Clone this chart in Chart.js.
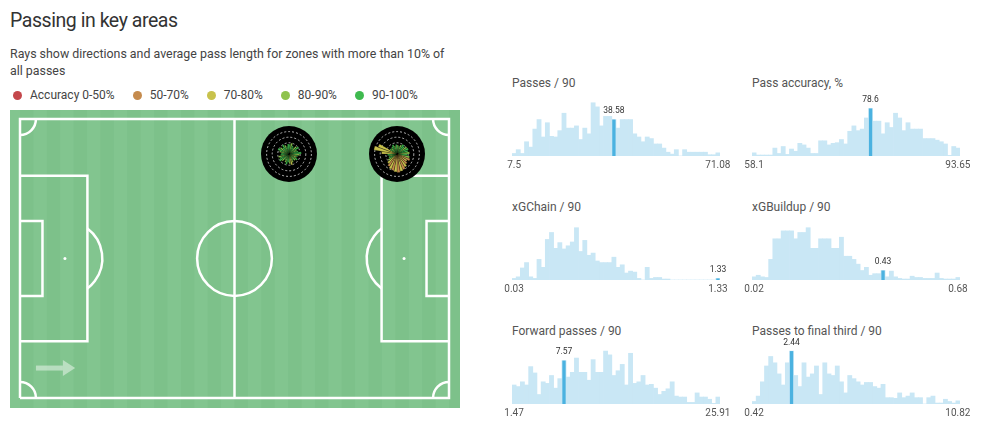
<!DOCTYPE html>
<html>
<head>
<meta charset="utf-8">
<script src="https://cdn.jsdelivr.net/npm/chart.js@4.4.1/dist/chart.umd.min.js"></script>
<style>
body{margin:0;width:982px;height:427px;background:#fff;font-family:Roboto,"Noto Sans",sans-serif;color:#333;position:relative;overflow:hidden}
.abs{position:absolute}
#title{left:10px;top:9px;font-size:19.5px;letter-spacing:-0.45px;color:#333;white-space:nowrap}
#sub{left:10px;top:45px;width:470px;font-size:12.4px;line-height:17px;color:#444}
#legend{left:13px;top:88px;font-size:12px;color:#444;display:flex;align-items:center;white-space:nowrap}
.item{display:flex;align-items:center;margin-right:18px}
.dot{width:9px;height:9px;border-radius:50%;margin-right:8px}
.ptitle{font-size:12px;line-height:14px;color:#555;white-space:nowrap}
</style>
</head>
<body>
<div id="title" class="abs">Passing in key areas</div>
<div id="sub" class="abs">Rays show directions and average pass length for zones with more than 10% of<br>all passes</div>
<div id="legend" class="abs"></div>
<canvas id="pitch" class="abs" style="left:10px;top:110px" width="450" height="298"></canvas>
<script>
Chart.defaults.font.family = 'Roboto, "Noto Sans", sans-serif';

// accuracy classes
const accLabels = ['Accuracy 0-50%', '50-70%', '70-80%', '80-90%', '90-100%'];
const accColors = ['#c4474b', '#c58b4d', '#c8c24c', '#8ec34d', '#3fba4f'];

// pitch markings, metres
const pitchOutline = [[0, 0], [105, 0], [105, 68], [0, 68], [0, 0]];
const halfwayLine = [[52.5, 0], [52.5, 68]];
const leftBox = [[0, 13.84], [16.5, 13.84], [16.5, 54.16], [0, 54.16]];
const leftSixYard = [[0, 24.84], [5.5, 24.84], [5.5, 43.16], [0, 43.16]];
const rightBox = [[105, 13.84], [88.5, 13.84], [88.5, 54.16], [105, 54.16]];
const rightSixYard = [[105, 24.84], [99.5, 24.84], [99.5, 43.16], [105, 43.16]];

// zones with more than 10% of passes (centre, metres)
const zoneCentres = [[65.8, 59.5], [92.3, 59.5]];
// rays: 36 directions clockwise from "up", average length and accuracy class
const zone1Length = [3.5, 4.0, 3.2, 2.8, 3.6, 4.2, 3.0, 3.4, 4.4, 3.8, 3.2, 2.9, 3.6, 3.1, 2.7, 3.3, 4.0, 3.5,
                     3.0, 3.8, 3.2, 2.6, 3.4, 4.1, 3.6, 3.9, 3.0, 2.8, 3.5, 4.3, 3.7, 3.1, 3.9, 3.4, 2.9, 3.6];
const zone1Accuracy = [4, 3, 4, 4, 3, 4, 3, 4, 4, 3, 4, 2, 4, 3, 4, 3, 2, 3,
                       4, 4, 3, 4, 3, 4, 4, 3, 4, 4, 3, 4, 3, 4, 4, 3, 4, 4];
const zone2Length = [3.2, 3.0, 3.5, 4.0, 3.6, 4.2, 4.4, 4.0, 4.5, 3.8, 4.6, 5.0, 4.2, 4.8, 5.5, 6.0, 6.3, 6.6,
                     6.4, 6.0, 5.8, 5.2, 4.5, 3.8, 3.2, 3.0, 3.4, 5.5, 8.4, 7.2, 3.0, 2.8, 3.2, 3.6, 3.0, 3.4];
const zone2Accuracy = [3, 4, 3, 4, 4, 3, 4, 4, 3, 4, 3, 1, 2, 1, 2, 1, 2, 1,
                       2, 1, 2, 1, 2, 3, 4, 3, 4, 2, 2, 2, 4, 3, 4, 4, 3, 4];

// distributions
const passesCounts = [8, 20, 8, 45, 28, 85, 115, 60, 105, 62, 60, 80, 135, 88, 88, 95, 52, 88, 70, 168, 155, 95, 125, 125, 115,
                      88, 115, 115, 115, 70, 60, 45, 60, 55, 38, 38, 25, 12, 6, 20, 0, 20, 12, 12, 12, 12, 12, 4, 4, 10];
const passesRange = [7.5, 71.08];
const passesPlayer = 38.58;

const accuracyCounts = [10, 3, 3, 3, 3, 25, 8, 30, 5, 22, 15, 40, 35, 25, 8, 8, 48, 48, 35, 40, 42, 52, 38, 78, 95,
                        80, 85, 120, 150, 110, 110, 70, 105, 90, 135, 120, 80, 105, 85, 85, 85, 55, 55, 55, 50, 45, 38, 2, 30, 25];
const accuracyRange = [58.1, 93.65];
const accuracyPlayer = 78.6;

const xgChainCounts = [5, 10, 38, 55, 10, 5, 65, 40, 128, 150, 100, 118, 98, 108, 120, 165, 90, 125, 78, 85, 60, 55, 55, 55, 72,
                       40, 48, 22, 28, 25, 5, 0, 40, 5, 8, 8, 3, 3, 0, 0, 0, 0, 0, 0, 0, 0, 0, 0, 0, 5];
const xgChainRange = [0.03, 1.33];
const xgChainPlayer = 1.33;

const xgBuildupCounts = [10, 15, 10, 8, 65, 130, 130, 155, 155, 155, 130, 150, 150, 165, 100, 100, 130, 130, 130, 100, 100, 135, 75, 75, 65,
                         50, 30, 40, 15, 20, 20, 30, 10, 28, 10, 5, 3, 3, 12, 8, 8, 5, 5, 5, 22, 5, 3, 3, 3, 8];
const xgBuildupRange = [0.02, 0.68];
const xgBuildupPlayer = 0.43;

const forwardCounts = [60, 55, 70, 60, 118, 98, 30, 70, 65, 90, 50, 80, 137, 85, 100, 145, 100, 100, 75, 140, 100, 100, 167, 155, 90,
                       105, 125, 60, 160, 65, 70, 90, 60, 62, 50, 30, 40, 48, 70, 25, 22, 22, 5, 5, 35, 22, 22, 15, 2, 22];
const forwardRange = [1.47, 25.91];
const forwardPlayer = 7.57;

const finalThirdCounts = [8, 25, 70, 120, 150, 130, 95, 60, 130, 167, 90, 55, 130, 85, 95, 120, 30, 130, 95, 90, 120, 70, 35, 90, 80,
                          70, 60, 68, 68, 55, 50, 62, 20, 20, 18, 35, 20, 25, 35, 20, 20, 0, 20, 25, 3, 3, 15, 8, 3, 10];
const finalThirdRange = [0.42, 10.82];
const finalThirdPlayer = 2.44;

// legend
const legend = document.getElementById('legend');
accLabels.forEach((label, i) => {
    const item = document.createElement('div');
    item.className = 'item';
    item.innerHTML = '<span class="dot" style="background:' + accColors[i] + '"></span>' + label;
    legend.appendChild(item);
});

// grass, arcs, spots and attack arrow
const pitchPlugin = {
    id: 'pitchDecor',
    beforeDraw(chart) {
        const {ctx, width, height, scales: {x}} = chart;
        ctx.save();
        ctx.fillStyle = '#7fc48d';
        ctx.fillRect(0, 0, width, height);
        const band = 105 / 32;
        for (let i = -4; i < 36; i++) {
            const x0 = x.getPixelForValue(i * band), x1 = x.getPixelForValue((i + 1) * band);
            ctx.fillStyle = i % 2 ? 'rgba(255,255,255,0.025)' : 'rgba(0,80,20,0.015)';
            ctx.fillRect(x0, 0, x1 - x0, height);
        }
        ctx.restore();
    },
    afterDatasetsDraw(chart) {
        const {ctx, scales: {x, y}} = chart;
        const px = v => x.getPixelForValue(v), py = v => y.getPixelForValue(v);
        const m = v => px(v) - px(0);
        ctx.save();
        ctx.strokeStyle = '#fff';
        ctx.lineWidth = 2.5;
        // centre circle
        ctx.beginPath();
        ctx.arc(px(52.5), py(34), m(9.15), 0, Math.PI * 2);
        ctx.stroke();
        // penalty arcs
        const a = Math.acos(5.5 / 9.15);
        ctx.beginPath();
        ctx.arc(px(11), py(34), m(9.15), -a, a);
        ctx.stroke();
        ctx.beginPath();
        ctx.arc(px(94), py(34), m(9.15), Math.PI - a, Math.PI + a);
        ctx.stroke();
        // corners
        const r = m(3.9);
        [[0, 68, 0], [105, 68, 0.5], [105, 0, 1], [0, 0, 1.5]].forEach(([cx, cy, s]) => {
            ctx.beginPath();
            ctx.arc(px(cx), py(cy), r, s * Math.PI, (s + 0.5) * Math.PI);
            ctx.stroke();
        });
        // spots
        ctx.fillStyle = '#fff';
        [11, 94].forEach(sx => {
            ctx.beginPath();
            ctx.arc(px(sx), py(34), 1.5, 0, Math.PI * 2);
            ctx.fill();
        });
        // arrow
        ctx.strokeStyle = ctx.fillStyle = 'rgba(255,255,255,0.45)';
        ctx.lineWidth = 5;
        ctx.beginPath();
        ctx.moveTo(px(3.9), py(7.3));
        ctx.lineTo(px(10.5), py(7.3));
        ctx.stroke();
        ctx.beginPath();
        ctx.moveTo(px(10.5), py(7.3) - 8);
        ctx.lineTo(px(13.5), py(7.3));
        ctx.lineTo(px(10.5), py(7.3) + 8);
        ctx.closePath();
        ctx.fill();
        ctx.restore();
    }
};

const pitchLines = [pitchOutline, halfwayLine, leftBox, leftSixYard, rightBox, rightSixYard];
const pitch = new Chart(document.getElementById('pitch'), {
    type: 'scatter',
    data: {
        datasets: pitchLines.map(pts => ({
            data: pts.map(([x, y]) => ({x, y})),
            showLine: true,
            pointRadius: 0,
            borderColor: '#fff',
            borderWidth: 2.5,
            borderJoinStyle: 'miter',
            clip: false
        }))
    },
    options: {
        responsive: false,
        animation: false,
        events: [],
        layout: {padding: {left: 10, right: 11, top: 9, bottom: 10}},
        scales: {
            x: {type: 'linear', min: 0, max: 105, display: false},
            y: {type: 'linear', min: 0, max: 68, display: false}
        },
        plugins: {legend: {display: false}, tooltip: {enabled: false}}
    },
    plugins: [pitchPlugin]
});

// black disc behind each ray chart
const discPlugin = {
    id: 'disc',
    beforeDraw(chart) {
        const r = chart.scales.r, ctx = chart.ctx;
        ctx.save();
        ctx.fillStyle = '#000';
        ctx.beginPath();
        ctx.arc(r.xCenter, r.yCenter, r.drawingArea, 0, Math.PI * 2);
        ctx.fill();
        ctx.restore();
    }
};

const zoneRays = [[zone1Length, zone1Accuracy], [zone2Length, zone2Accuracy]];
zoneCentres.forEach((c, k) => {
    const cx = pitch.scales.x.getPixelForValue(c[0]) + 10;
    const cy = pitch.scales.y.getPixelForValue(c[1]) + 110;
    const cv = document.createElement('canvas');
    cv.width = 60; cv.height = 60;
    cv.className = 'abs';
    cv.style.left = (cx - 30) + 'px';
    cv.style.top = (cy - 30) + 'px';
    document.body.appendChild(cv);
    const [len, acc] = zoneRays[k];
    new Chart(cv, {
        type: 'polarArea',
        data: {
            labels: len.map((_, i) => i * 10 + '°'),
            datasets: [{
                data: len,
                backgroundColor: acc.map(a => accColors[a]),
                borderColor: 'rgba(0,0,0,0.5)',
                borderWidth: 0.5
            }]
        },
        options: {
            responsive: false,
            animation: false,
            events: [],
            layout: {padding: 2},
            plugins: {legend: {display: false}, tooltip: {enabled: false}},
            scales: {
                r: {
                    min: 0, max: 10,
                    ticks: {display: false, stepSize: 2},
                    grid: {
                        color: ctx => (ctx.tick && [4, 6, 8].includes(ctx.tick.value)) ? 'rgba(255,255,255,0.85)' : 'rgba(0,0,0,0)',
                        lineWidth: 0.8
                    },
                    border: {dash: [2, 2]},
                    angleLines: {display: false},
                    pointLabels: {display: false}
                }
            }
        },
        plugins: [discPlugin]
    });
});

// value label over the player's bar
const markLabel = {
    id: 'markLabel',
    afterDatasetsDraw(chart) {
        const opts = chart.options.plugins.markLabel;
        const el = chart.getDatasetMeta(0).data[opts.bin];
        const ctx = chart.ctx;
        ctx.save();
        ctx.font = '8.5px Roboto';
        ctx.fillStyle = '#333';
        ctx.textAlign = 'center';
        ctx.textBaseline = 'bottom';
        ctx.fillText(opts.text, el.x, el.y - 4);
        ctx.restore();
    }
};

const panels = [
    {title: 'Passes / 90', counts: passesCounts, range: passesRange, player: passesPlayer},
    {title: 'Pass accuracy, %', counts: accuracyCounts, range: accuracyRange, player: accuracyPlayer},
    {title: 'xGChain / 90', counts: xgChainCounts, range: xgChainRange, player: xgChainPlayer},
    {title: 'xGBuildup / 90', counts: xgBuildupCounts, range: xgBuildupRange, player: xgBuildupPlayer},
    {title: 'Forward passes / 90', counts: forwardCounts, range: forwardRange, player: forwardPlayer},
    {title: 'Passes to final third / 90', counts: finalThirdCounts, range: finalThirdRange, player: finalThirdPlayer}
];

panels.forEach((p, k) => {
    const col = k % 2, row = Math.floor(k / 2);
    const left = col ? 740 : 500, width = col ? 242 : 240;
    const base = [159, 283, 407][row];

    const t = document.createElement('div');
    t.className = 'abs ptitle';
    t.style.left = (left + 12) + 'px';
    t.style.top = (base - 83) + 'px';
    t.textContent = p.title;
    document.body.appendChild(t);

    const cv = document.createElement('canvas');
    cv.width = width; cv.height = 90;
    cv.className = 'abs';
    cv.style.left = left + 'px';
    cv.style.top = (base - 75) + 'px';
    document.body.appendChild(cv);

    const n = p.counts.length;
    const bin = Math.min(n - 1, Math.floor((p.player - p.range[0]) / (p.range[1] - p.range[0]) * n));
    const mark = p.counts.map((c, i) => i === bin ? c : null);

    new Chart(cv, {
        type: 'bar',
        data: {
            labels: p.counts.map((_, i) => i),
            datasets: [
                {data: mark, backgroundColor: '#4bb2e0', barPercentage: 0.8, categoryPercentage: 1, grouped: false},
                {data: p.counts, backgroundColor: '#c9e7f5', barPercentage: 1, categoryPercentage: 1, grouped: false}
            ]
        },
        options: {
            responsive: false,
            animation: false,
            events: [],
            layout: {padding: {left: 12, right: col ? 22 : 20, top: 14, bottom: 0}},
            scales: {
                x: {
                    grid: {display: false, drawTicks: false},
                    border: {display: false},
                    ticks: {
                        autoSkip: false, maxRotation: 0, padding: 3,
                        font: {size: 10}, color: '#555',
                        callback: (v, i) => i === 0 ? String(p.range[0]) : (i === n - 1 ? String(p.range[1]) : '')
                    }
                },
                y: {min: 0, max: 183, display: false}
            },
            plugins: {
                legend: {display: false},
                tooltip: {enabled: false},
                markLabel: {bin: bin, text: String(p.player)}
            }
        },
        plugins: [markLabel]
    });
});
</script>
</body>
</html>
